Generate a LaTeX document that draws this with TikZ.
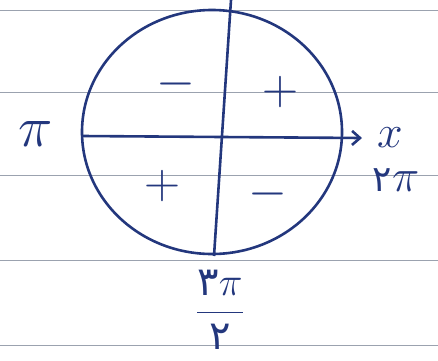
\RequirePackage{fix-cm}
\documentclass[tikz,border=0pt]{standalone}
\usepackage{fontspec}
\newfontfamily\arabicfont[Script=Arabic]{DejaVu Sans}
\usepackage{xcolor}
\usetikzlibrary{positioning, arrows.meta}
\definecolor{ink}{RGB}{35,55,125}
\definecolor{ruling}{RGB}{155,162,175}

\begin{document}
\begin{tikzpicture}[
    x=1pt, y=-1pt,
    pen/.style={draw=ink, line width=2.6pt},
    sign/.style={text=ink, font=\fontsize{50}{50}\selectfont},
    mark label/.style={text=ink, font=\fontsize{46}{46}\selectfont, inner sep=1pt},
    ruled/.style={draw=ruling, line width=0.8pt}
]
\useasboundingbox (0,0) rectangle (438,360);

% notebook rulings
\foreach \y in {10,92,175,260,345}
    \draw[ruled] (0,\y) -- (438,\y);

% circle and axes
\draw[pen] (212,132) ellipse [x radius=130, y radius=122];
\coordinate (top) at (231,0);
\coordinate (bottom) at (214,256);
\coordinate (west) at (83,136);
\coordinate (east) at (362,138);
\draw[pen] (top) -- (bottom);
\draw[pen, -{Straight Barb[length=8pt, width=14pt]}] (west) -- (east);

% signs in the quadrants
\node (q2) [sign] at (176,84) {$-$};
\node (q1) [sign] at (280,92) {$+$};
\node (q3) [sign] at (162,186) {$+$};
\node (q4) [sign] at (268,194) {$-$};

% labels
\node (pi) [mark label, font=\fontsize{58}{58}\selectfont] at (36,134) {$\pi$};
\node (xlab) [mark label, right=14pt of east] {$x$};
\node (twopi) [mark label] at (396,180) {\mbox{\arabicfont\fontsize{36}{36}\selectfont ۲}$\pi$};
\node (threehalf) [mark label, font=\fontsize{40}{40}\selectfont] at (220,310) {$\displaystyle\frac{\mbox{\arabicfont ۳}\pi}{\mbox{\arabicfont ۲}}$};

\end{tikzpicture}
\end{document}
